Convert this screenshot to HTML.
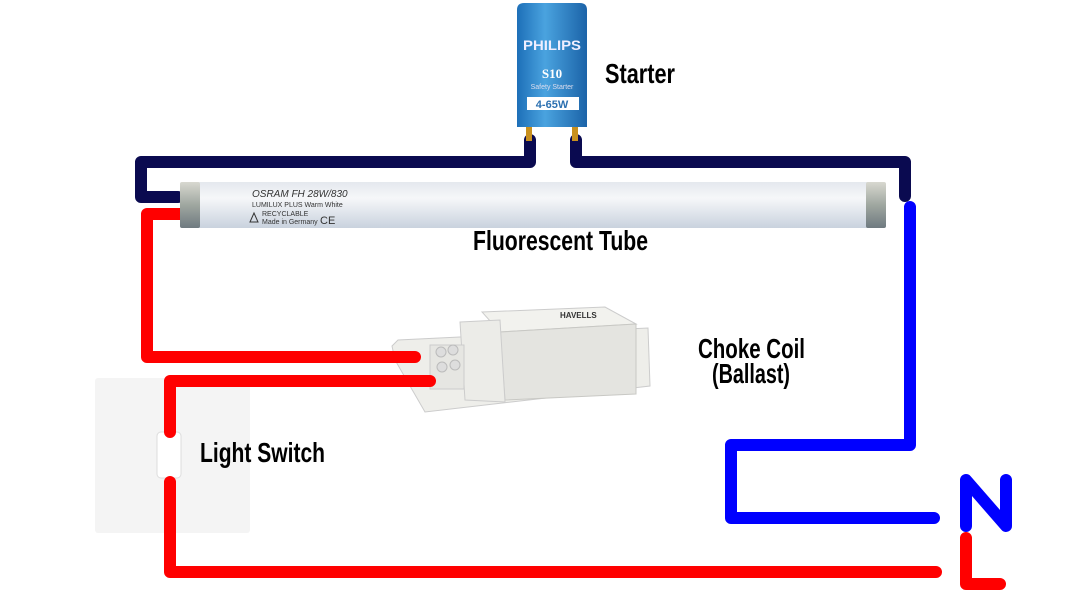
<!DOCTYPE html>
<html><head><meta charset="utf-8"><style>
html,body{margin:0;padding:0;background:#fff;}
svg{display:block;}
.lbl{font-family:"Liberation Sans",sans-serif;font-weight:bold;fill:#000;}
</style></head><body>
<svg width="1072" height="603" viewBox="0 0 1072 603" xmlns="http://www.w3.org/2000/svg">
<defs>
<linearGradient id="tube" x1="0" y1="0" x2="0" y2="1">
<stop offset="0" stop-color="#e4e8ee"/><stop offset="0.35" stop-color="#f6f7f9"/><stop offset="1" stop-color="#c9d2de"/></linearGradient>
<linearGradient id="cap" x1="0" y1="0" x2="0" y2="1">
<stop offset="0" stop-color="#d8d8d0"/><stop offset="0.5" stop-color="#9fa7a0"/><stop offset="1" stop-color="#6f7a80"/></linearGradient>
<linearGradient id="st" x1="0" y1="0" x2="1" y2="0">
<stop offset="0" stop-color="#1d6fb8"/><stop offset="0.4" stop-color="#4aa3df"/><stop offset="1" stop-color="#1b63a8"/></linearGradient>
</defs>
<rect x="95" y="378" width="155" height="155" rx="3" fill="#f4f4f4"/>
<rect x="157" y="432" width="24" height="46" rx="4" fill="#fff" stroke="#ddd"/>
<polygon points="392,346 398,340 648,328 650,386 425,412 395,360" fill="#eeeeea" stroke="#ccc"/>
<polygon points="482,312 605,307 636,324 500,332" fill="#f2f2ee" stroke="#ccc"/>
<polygon points="500,332 636,324 636,394 505,400" fill="#e4e4e0" stroke="#c8c8c4"/>
<polygon points="460,322 500,320 505,402 465,400" fill="#ecece8" stroke="#ccc"/>
<rect x="430" y="345" width="34" height="44" fill="#e6e6e2" stroke="#ccc"/>
<circle cx="441" cy="352" r="5" fill="#ddd" stroke="#bbb"/><circle cx="453" cy="350" r="5" fill="#ddd" stroke="#bbb"/>
<circle cx="442" cy="367" r="5" fill="#ddd" stroke="#bbb"/><circle cx="455" cy="365" r="5" fill="#ddd" stroke="#bbb"/>
<text x="560" y="318" font-family="Liberation Sans" font-weight="bold" font-size="8" fill="#333">HAVELLS</text>
<g fill="none" stroke-linecap="round" stroke-linejoin="round" stroke-width="12">
<path d="M530 140 V162 H141 V197 H178" stroke="#0a0a50"/>
<path d="M576 140 V162 H905 V196" stroke="#0a0a50"/>
<path d="M180 214 H147 V357 H415" stroke="#ff0000"/>
<path d="M430 381 H170 V432" stroke="#ff0000"/>
<path d="M170 482 V572 H936" stroke="#ff0000"/>
<path d="M910 207 V445 H731 V518 H934" stroke="#0000ff"/>
<path d="M966 526 V480 L1006 526 V480" stroke="#0000ff"/>
<path d="M966 538 V584 H1000" stroke="#ff0000"/>
</g>
<rect x="186" y="182" width="694" height="46" rx="6" fill="url(#tube)"/>
<rect x="180" y="182" width="20" height="46" rx="2" fill="url(#cap)"/>
<rect x="866" y="182" width="20" height="46" rx="2" fill="url(#cap)"/>
<text x="252" y="197" font-family="Liberation Sans" font-size="10" font-style="italic" fill="#333">OSRAM FH 28W/830</text>
<text x="252" y="207" font-family="Liberation Sans" font-size="7" fill="#333">LUMILUX PLUS Warm White</text>
<text x="262" y="216" font-family="Liberation Sans" font-size="7" fill="#333">RECYCLABLE</text>
<text x="262" y="224" font-family="Liberation Sans" font-size="7" fill="#333">Made in Germany</text>
<text x="320" y="224" font-family="Liberation Sans" font-size="11" fill="#333">CE</text>
<polygon points="250,222 254,213 258,222" fill="none" stroke="#333"/>
<rect x="526" y="125" width="6" height="16" fill="#c8901e"/>
<rect x="572" y="125" width="6" height="16" fill="#c8901e"/>
<path d="M517 10 Q517 3 524 3 H580 Q587 3 587 10 V127 H517 Z" fill="url(#st)"/>
<text x="552" y="50" text-anchor="middle" font-family="Liberation Sans" font-weight="bold" font-size="14" textLength="58" lengthAdjust="spacingAndGlyphs" fill="#eef">PHILIPS</text>
<text x="552" y="78" text-anchor="middle" font-family="Liberation Serif" font-weight="bold" font-size="13" fill="#fff">S10</text>
<text x="552" y="89" text-anchor="middle" font-family="Liberation Sans" font-size="7" fill="#dde">Safety Starter</text>
<rect x="527" y="97" width="52" height="13" fill="#fff"/>
<text x="552" y="108" text-anchor="middle" font-family="Liberation Sans" font-weight="bold" font-size="11" fill="#2a6fb0">4-65W</text>
<text class="lbl" x="605" y="83" font-size="28" textLength="70" lengthAdjust="spacingAndGlyphs">Starter</text>
<text class="lbl" x="473" y="250" font-size="28" textLength="175" lengthAdjust="spacingAndGlyphs">Fluorescent Tube</text>
<text class="lbl" x="698" y="358" font-size="28" textLength="107" lengthAdjust="spacingAndGlyphs">Choke Coil</text>
<text class="lbl" x="712" y="383" font-size="28" textLength="78" lengthAdjust="spacingAndGlyphs">(Ballast)</text>
<text class="lbl" x="200" y="462" font-size="28" textLength="125" lengthAdjust="spacingAndGlyphs">Light Switch</text>
</svg>
</body></html>
